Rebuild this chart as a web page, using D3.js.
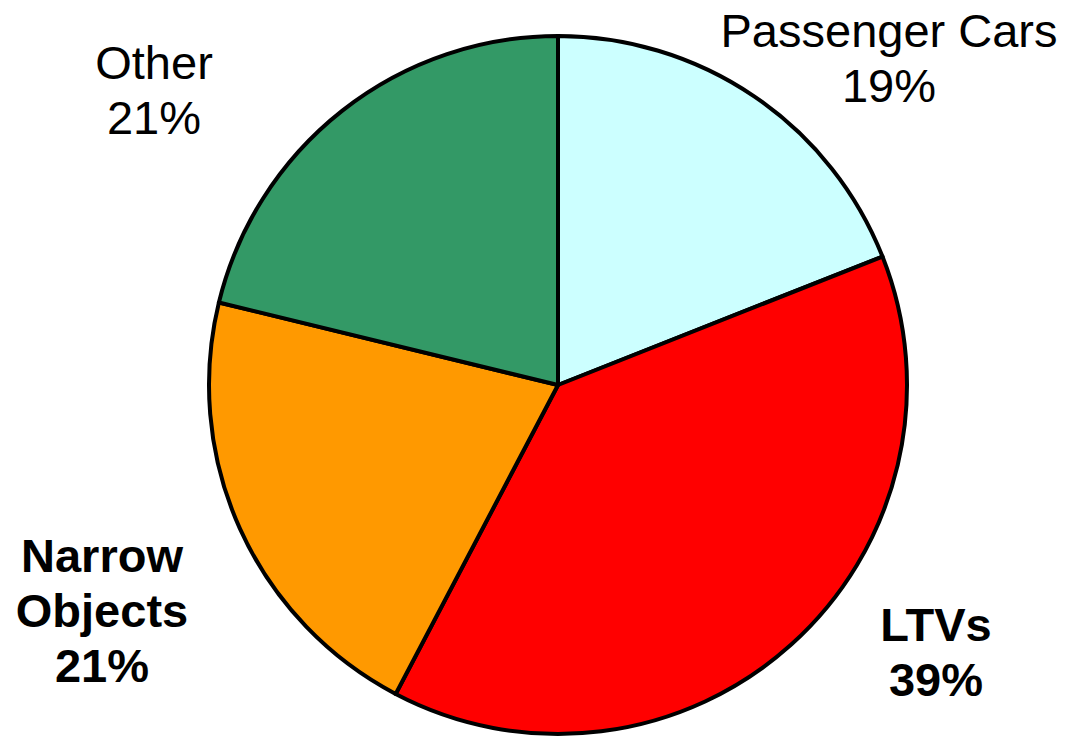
<!DOCTYPE html>
<html>
<head>
<meta charset="utf-8">
<script src="https://cdn.jsdelivr.net/npm/d3@7"></script>
<style>
  body { margin: 0; background: #fff; }
  text { font-family: Arial, "Liberation Sans", sans-serif; fill: #000; }
</style>
</head>
<body>
<div id="chart-area"></div>
<script>
// chart values (slice shares; labels show rounded %)
var categories = ["Passenger Cars", "LTVs", "Narrow Objects", "Other"];
var shares = [19.0, 38.7, 21.1, 21.2];
var colors = ["#CCFFFF", "#FF0000", "#FF9900", "#339966"];

// label text lines (bold ones are the highlighted slices)
var labelLines = [["Passenger Cars", "19%"], ["LTVs", "39%"], ["Narrow", "Objects", "21%"], ["Other", "21%"]];
var labelBold = [false, true, true, false];
// label anchors (centre x, first baseline y)
var labelPos = [[889, 47], [936, 641], [102, 572], [154, 79]];

var width = 1067, height = 738;
var cx = 558, cy = 385, radius = 349;

var svg = d3.select("#chart-area").append("svg")
    .attr("width", width)
    .attr("height", height);

var data = categories.map(function(c, i) {
    return { name: c, value: shares[i], color: colors[i] };
});

var pie = d3.pie()
    .sort(null)
    .value(function(d) { return d.value; });

var arc = d3.arc()
    .innerRadius(0)
    .outerRadius(radius);

var g = svg.append("g")
    .attr("transform", "translate(" + cx + "," + cy + ")");

g.selectAll("path")
    .data(pie(data))
    .enter()
    .append("path")
        .attr("d", arc)
        .attr("fill", function(d) { return d.data.color; })
        .attr("stroke", "#000")
        .attr("stroke-width", 4)
        .attr("stroke-linejoin", "round");

// labels
var labels = svg.selectAll("text.label")
    .data(data)
    .enter()
    .append("text")
        .attr("class", "label")
        .attr("text-anchor", "middle")
        .attr("font-size", 47)
        .attr("font-weight", function(d, i) { return labelBold[i] ? "bold" : "normal"; })
        .attr("transform", function(d, i) {
            return "translate(" + labelPos[i][0] + "," + labelPos[i][1] + ")";
        });

labels.each(function(d, i) {
    d3.select(this).selectAll("tspan")
        .data(labelLines[i])
        .enter()
        .append("tspan")
            .attr("x", 0)
            .attr("y", function(t, j) { return j * 55; })
            .text(function(t) { return t; });
});
</script>
</body>
</html>
